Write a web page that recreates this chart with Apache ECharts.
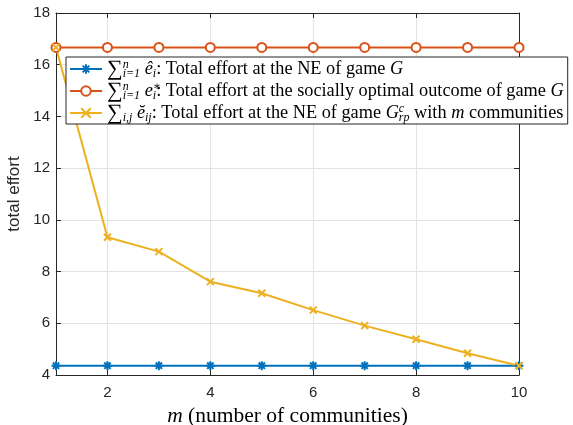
<!DOCTYPE html>
<html>
<head>
<meta charset="utf-8">
<script src="https://cdn.jsdelivr.net/npm/echarts@6/dist/echarts.min.js"></script>
<style>html,body{margin:0;padding:0;background:#fff}#c{width:573px;height:425px}</style>
</head>
<body>
<div id="c"></div>
<script>
var communities = [1, 2, 3, 4, 5, 6, 7, 8, 9, 10];
var neTotal = [4.36, 4.36, 4.36, 4.36, 4.36, 4.36, 4.36, 4.36, 4.36, 4.36];
var optTotal = [16.67, 16.67, 16.67, 16.67, 16.67, 16.67, 16.67, 16.67, 16.67, 16.67];
var commTotal = [16.67, 9.33, 8.77, 7.61, 7.16, 6.51, 5.91, 5.38, 4.84, 4.36];
var xTicks = [2, 4, 6, 8, 10];
var seriesNames = ['ne', 'opt', 'comm'];
var legendTexts = {
  ne: '{sum|∑}{supw|n}{sub|i=1} {it|ê}{sub|i}{t|: Total effort at the NE of game }{it|G}',
  opt: '{sum|∑}{supw|n}{sub|i=1} {it|e}{supw|∗}{sub|i}{t|: Total effort at the socially optimal outcome of game }{it|G}',
  comm: '{sum|∑}{sub|i,j} {it|ĕ}{sub|ij}{t|: Total effort at the NE of game }{it|G}{supw|c}{sub|rp}{t| with }{it|m}{t| communities}'
};

function zip(xs, ys) { return xs.map(function (x, i) { return [x, ys[i]]; }); }

var AX = '#262626';
var SERIF = '"Liberation Serif", "DejaVu Serif", serif';
var SANS = '"Liberation Sans", Arial, sans-serif';
var star = 'path://M5,0L5,10M0,5L10,5M1.5,1.5L8.5,8.5M8.5,1.5L1.5,8.5';
var cross = 'path://M0,0L10,10M10,0L0,10';

var chart = echarts.init(document.getElementById('c'), null, {renderer: 'canvas'});
chart.setOption({
  animation: false,
  backgroundColor: '#fff',
  grid: {left: 56, right: 54, top: 13, bottom: 50, containLabel: false, outerBoundsMode: 'none'},
  legend: {
    data: seriesNames,
    orient: 'vertical',
    left: 66, top: 57,
    padding: [1, 4, 0, 3],
    itemGap: 0,
    itemWidth: 32, itemHeight: 12,
    backgroundColor: '#fff',
    borderColor: AX, borderWidth: 1,
    formatter: function (n) { return legendTexts[n]; },
    textStyle: {
      color: '#000', fontFamily: SERIF, fontSize: 18.3,
      rich: {
        sum: {fontFamily: SERIF, fontSize: 22, lineHeight: 21, color: '#000'},
        t: {fontFamily: SERIF, fontSize: 18.3, lineHeight: 21, color: '#000'},
        it: {fontFamily: SERIF, fontSize: 18.3, fontStyle: 'italic', lineHeight: 21, color: '#000'},
        supw: {fontFamily: SERIF, fontSize: 12, fontStyle: 'italic', verticalAlign: 'top', lineHeight: 12, width: 0, color: '#000'},
        sub: {fontFamily: SERIF, fontSize: 12, fontStyle: 'italic', verticalAlign: 'bottom', lineHeight: 10, color: '#000'}
      }
    }
  },
  xAxis: [{
    type: 'value', min: 1, max: 10,
    name: '{it|m} (number of communities)', nameLocation: 'middle', nameGap: 26,
    nameTextStyle: {fontFamily: SERIF, fontSize: 21.5, color: '#000',
      rich: {it: {fontFamily: SERIF, fontSize: 21.5, fontStyle: 'italic', color: '#000'}}},
    axisLine: {show: true, onZero: false, lineStyle: {color: AX, width: 1}},
    axisTick: {show: true, inside: true, length: 5, customValues: xTicks, lineStyle: {color: AX}},
    axisLabel: {customValues: xTicks, color: AX, fontFamily: SANS, fontSize: 15, margin: 10},
    splitLine: {show: true, lineStyle: {color: '#e3e3e3', width: 1}}
  }, {
    type: 'value', min: 1, max: 10, position: 'top',
    axisLine: {show: true, onZero: false, lineStyle: {color: AX, width: 1}},
    axisTick: {show: true, inside: true, length: 5, customValues: xTicks, lineStyle: {color: AX}},
    axisLabel: {show: false},
    splitLine: {show: false}
  }],
  yAxis: [{
    type: 'value', min: 4, max: 18, interval: 2,
    name: 'total effort', nameLocation: 'middle', nameGap: 28,
    nameTextStyle: {fontFamily: SANS, fontSize: 17, color: AX},
    axisLine: {show: true, onZero: false, lineStyle: {color: AX, width: 1}},
    axisTick: {show: true, inside: true, length: 5, lineStyle: {color: AX}},
    axisLabel: {color: AX, fontFamily: SANS, fontSize: 15, margin: 6},
    splitLine: {show: true, lineStyle: {color: '#e3e3e3', width: 1}}
  }, {
    type: 'value', min: 4, max: 18, interval: 2, position: 'right',
    axisLine: {show: true, onZero: false, lineStyle: {color: AX, width: 1}},
    axisTick: {show: true, inside: true, length: 5, lineStyle: {color: AX}},
    axisLabel: {show: false},
    splitLine: {show: false}
  }],
  series: [{
    name: 'ne', type: 'line', data: zip(communities, neTotal),
    color: '#0072BD',
    lineStyle: {color: '#0072BD', width: 2},
    symbol: star, symbolSize: 9,
    itemStyle: {color: '#0072BD', borderColor: '#0072BD', borderWidth: 2}
  }, {
    name: 'opt', type: 'line', data: zip(communities, optTotal),
    color: '#D95319',
    lineStyle: {color: '#D95319', width: 2},
    symbol: 'emptyCircle', symbolSize: 9,
    itemStyle: {color: '#D95319', borderColor: '#D95319', borderWidth: 2}
  }, {
    name: 'comm', type: 'line', data: zip(communities, commTotal),
    color: '#EDB120',
    lineStyle: {color: '#EDB120', width: 2},
    symbol: cross, symbolSize: 7,
    itemStyle: {color: '#EDB120', borderColor: '#EDB120', borderWidth: 2}
  }]
});
</script>
</body>
</html>
